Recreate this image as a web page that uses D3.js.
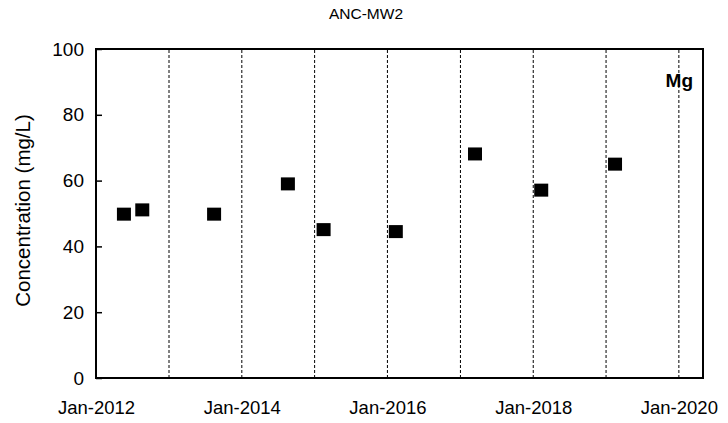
<!DOCTYPE html>
<html>
<head>
<meta charset="utf-8">
<script src="https://cdn.jsdelivr.net/npm/d3@7"></script>
<style>
  body { margin: 0; background: #fff; }
  svg { display: block; font-family: Arial, "Liberation Sans", sans-serif; }
</style>
</head>
<body>
<svg id="chart" width="728" height="423"></svg>
<script>
const title = "ANC-MW2";
const analyte = "Mg";
const yLabel = "Concentration (mg/L)";
const sampleDates = ["2012-05-20", "2012-08-20", "2013-08-15", "2014-08-20", "2015-02-15", "2016-02-12", "2017-03-15", "2018-02-10", "2019-02-15"];
const concentrations = [49.8, 51.1, 49.8, 59.0, 45.1, 44.5, 68.1, 57.1, 65.0];
const yTicks = [0, 20, 40, 60, 80, 100];
const xLabelYears = [2012, 2014, 2016, 2018, 2020];
const gridYears = [2013, 2014, 2015, 2016, 2017, 2018, 2019, 2020];

const svg = d3.select("#chart");
const margin = {left: 96, right: 25, top: 49, bottom: 45};
const W = 728, H = 423;
const parse = d3.timeParse("%Y-%m-%d");

const x = d3.scaleTime()
  .domain([new Date(2012, 0, 1), new Date(2020, 4, 1)])
  .range([margin.left, W - margin.right]);
const y = d3.scaleLinear().domain([0, 100]).range([H - margin.bottom, margin.top]);

// gridlines
svg.append("g").selectAll("line").data(gridYears).join("line")
  .attr("x1", d => x(new Date(d, 0, 1))).attr("x2", d => x(new Date(d, 0, 1)))
  .attr("y1", y(0)).attr("y2", y(100))
  .attr("stroke", "#000").attr("stroke-width", 1).attr("stroke-dasharray", "3,2");

// y axis
const yAxis = svg.append("g").attr("transform", `translate(${margin.left},0)`)
  .call(d3.axisLeft(y).tickValues(yTicks).tickSize(-6).tickPadding(12));
yAxis.select(".domain").remove();
yAxis.selectAll("line").attr("stroke", "#000").attr("stroke-width", 1.5);
yAxis.selectAll("text").attr("font-size", 19).attr("fill", "#000");

// x axis labels
const xAxis = svg.append("g").attr("transform", `translate(0,${y(0)})`)
  .call(d3.axisBottom(x).tickValues(xLabelYears.map(d => new Date(d, 0, 1)))
    .tickFormat(d3.timeFormat("Jan-%Y")).tickSize(0).tickPadding(23));
xAxis.select(".domain").remove();
xAxis.selectAll("text").attr("font-size", 18.5).attr("fill", "#000");

// frame
svg.append("rect")
  .attr("x", x.range()[0]).attr("y", y(100))
  .attr("width", x.range()[1] - x.range()[0]).attr("height", y(0) - y(100))
  .attr("fill", "none").attr("stroke", "#000").attr("stroke-width", 2);

// points
const s = 14;
svg.append("g").selectAll("rect").data(sampleDates.map((d, i) => ({d: parse(d), v: concentrations[i]})))
  .join("rect")
  .attr("x", d => x(d.d) - s / 2).attr("y", d => y(d.v) - s / 2 + 0.5)
  .attr("width", s).attr("height", s - 1).attr("fill", "#000");

// title
svg.append("text").attr("x", 366).attr("y", 19).attr("text-anchor", "middle")
  .attr("font-size", 15.5).text(title);

// analyte label
svg.append("text").attr("x", 693).attr("y", 87).attr("text-anchor", "end")
  .attr("font-size", 19).attr("font-weight", "bold").text(analyte);

// y label
svg.append("text").attr("transform", `translate(30,${(y(0) + y(100)) / 2 - 3}) rotate(-90)`)
  .attr("text-anchor", "middle").attr("font-size", 20.5).text(yLabel);
</script>
</body>
</html>
